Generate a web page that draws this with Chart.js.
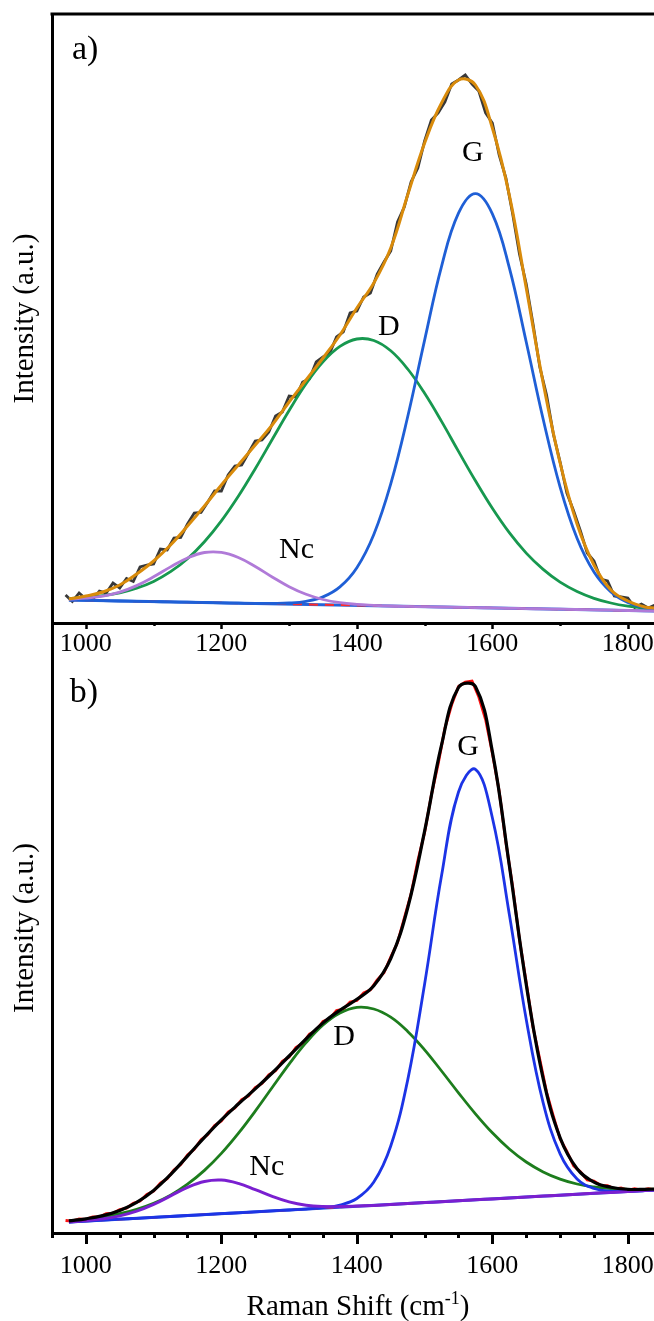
<!DOCTYPE html>
<html>
<head>
<meta charset="utf-8">
<title>Raman spectra fits</title>
<script src="https://cdn.jsdelivr.net/npm/chart.js@4.4.0/dist/chart.umd.min.js"></script>
<style>
  html, body { margin: 0; padding: 0; background: #fff; overflow: hidden; }
  body { width: 654px; height: 1321px; position: relative; }
  canvas { position: absolute; left: 0; }
  #chart-a { top: 0; z-index: 2; }
  #chart-b { top: 613px; z-index: 1; }
</style>
</head>
<body>
<canvas id="chart-a" width="720" height="680"></canvas>
<canvas id="chart-b" width="720" height="708"></canvas>
<script>
// ======== Data ========
const xTickLabels = [1000, 1200, 1400, 1600, 1800];
const aMinorTicks = [1100, 1300, 1500, 1700];
const bMinorTicks = [950, 1050, 1100, 1150, 1250, 1300, 1350, 1450, 1500, 1550, 1650, 1700, 1750];

// measured spectra, one point every 10 cm-1
const rawShift = Array.from({ length: 88 }, (_, i) => 970 + i * 10);

const aRaw = [28, 21.5, 30, 24, 23.5, 32, 30, 40, 35, 44.5, 41.5, 56, 58, 59, 74, 73, 85, 85.5, 99, 110,
  110.5, 121, 132, 132, 148, 157, 158, 170, 182, 183, 191, 207, 211, 227, 226, 241, 244, 261, 266, 270,
  286, 291, 310, 312, 326, 330, 349, 361, 372, 401, 416, 441, 455, 482, 503, 510, 521, 539, 543, 548,
  539, 532, 510, 500, 468, 445, 409, 369, 339, 299, 256, 228, 189, 161, 130, 112, 92, 70, 62, 44,
  42, 27, 26, 25, 15.5, 19, 15, 18];

const bRaw = [12.5, 11.8, 14.0, 13.6, 16.2, 16.1, 19.3, 19.8, 23.4, 24.9, 29.8, 31.9, 38.6, 41.8, 49.9, 54.3, 63.0, 68.5, 78.1, 83.6,
  93.2, 98.4, 107.5, 112.1, 121.0, 125.0, 133.3, 137.1, 145.5, 149.6, 158.2, 162.3, 171.6, 176.0, 185.5, 189.7, 198.9, 202.6, 211.7, 214.3,
  222.4, 224.0, 231.0, 232.5, 240.2, 243.1, 253.2, 260.3, 276.0, 290.4, 314.8, 339.0, 372.4, 400.5, 438.0, 469.0, 505.0, 528.5, 546.5, 551.0,
  552.0, 536.0, 513.5, 479.8, 442.0, 390.5, 346.0, 293.5, 250.5, 205.8, 173.8, 140.9, 116.8, 94.0, 81.5, 67.0, 61.2, 53.1, 51.9, 47.6,
  47.3, 44.2, 45.0, 43.0, 44.3, 42.9, 44.4, 43.3];

// fitted curves
const compShift = [975, 1000, 1025, 1050, 1075, 1100, 1125, 1150, 1175, 1200, 1225, 1250, 1275, 1300, 1325, 1350, 1375, 1400,
  1425, 1450, 1475, 1500, 1525, 1550, 1575, 1600, 1625, 1650, 1675, 1700, 1725, 1750, 1775, 1800, 1825, 1840];

const aFit = [24, 27, 31, 38, 49, 62, 78, 97, 117, 138, 158, 178, 198, 221, 243, 265, 288, 315,
  340, 375, 428, 480, 520, 543, 538, 495, 428, 335, 240, 160, 99, 58, 33, 22, 16, 15];
const aG = [23.0, 22.7, 22.4, 22.0, 21.7, 21.4, 21.1, 20.8, 20.5, 20.1, 19.8, 19.5, 19.6, 20.0, 21.7, 26.1, 36.1, 55.3,
  88.5, 139.1, 206.2, 282.9, 356.7, 409.8, 429.4, 409.2, 355.4, 281.0, 203.7, 135.9, 84.7, 50.9, 31.0, 20.4, 15.3, 13.7];
const aD = [24.6, 25.6, 27.4, 30.2, 34.8, 41.6, 51.3, 64.3, 81.3, 102.1, 126.7, 154.3, 183.5, 212.5, 239.2, 261.2, 276.6, 284.0,
  282.5, 272.2, 254.0, 229.7, 201.6, 171.6, 142.2, 114.7, 90.3, 69.9, 53.6, 40.8, 31.5, 24.7, 20.0, 16.8, 14.7, 13.8];
const aNc = [23.8, 24.8, 26.9, 30.9, 37.4, 46.2, 56.1, 65.0, 70.5, 70.6, 65.5, 56.5, 46.0, 36.3, 28.7, 23.5, 20.3, 18.6,
  17.7, 17.0, 16.6, 16.3, 16.0, 15.7, 15.4, 15.1, 14.7, 14.4, 14.1, 13.8, 13.5, 13.2, 12.8, 12.5, 12.2, 12.0];

const bFit = [12.1, 14.2, 17.4, 22.6, 30.7, 42.6, 58.4, 76.9, 95.7, 113.2, 129.0, 144.1, 160.0, 177.0, 194.2, 210.1, 222.8, 233.7,
  247.3, 274.3, 325.0, 401.9, 488.1, 545.5, 546.5, 481.4, 367.8, 248.6, 154.4, 95.2, 64.3, 50.9, 45.7, 43.7, 43.6, 43.9];
const bG = [11.0, 11.9, 12.8, 13.8, 14.7, 15.6, 16.5, 17.5, 18.4, 19.3, 20.2, 21.2, 22.1, 23.0, 23.9, 25.4, 28.0, 34.5,
  50.9, 87.0, 152.9, 249.1, 357.4, 441.0, 463.7, 415.3, 318.8, 213.6, 130.2, 79.1, 54.0, 44.5, 41.9, 41.6, 42.4, 43.0];
const bD = [12.0, 13.7, 16.0, 19.3, 23.6, 29.6, 37.8, 48.8, 62.6, 79.6, 99.6, 121.9, 145.5, 168.9, 190.3, 208.0, 220.0, 225.7,
  224.0, 215.8, 201.6, 183.2, 162.0, 140.2, 119.2, 100.2, 84.0, 71.0, 61.1, 53.9, 49.0, 46.1, 44.4, 43.7, 43.6, 43.9];
const bNc = [11.1, 12.4, 14.2, 17.1, 21.8, 28.6, 37.1, 45.6, 51.5, 52.9, 49.6, 43.4, 36.6, 31.1, 27.8, 26.5, 26.4, 26.9,
  27.6, 28.5, 29.5, 30.4, 31.3, 32.3, 33.2, 34.1, 35.0, 36.0, 36.9, 37.8, 38.7, 39.7, 40.6, 41.5, 42.4, 43.0];

// linear baselines
const baseShift = [975, 1840];
const aBaseline = [23, 12];
const bBaseline = [11, 43];

// ======== Helpers ========
const SERIF = '"Liberation Serif", "Times New Roman", serif';

function curve(xs, ys, color, width, extra) {
  return Object.assign({
    data: xs.map((x, i) => ({ x, y: ys[i] })),
    borderColor: color,
    borderWidth: width,
    pointRadius: 0,
    fill: false,
    tension: 0.4
  }, extra || {});
}

// tick marks, top frame, peak labels, x title
const panelDeco = {
  id: 'panelDeco',
  afterDraw(chart, args, opts) {
    const { ctx, chartArea, scales: { x, y } } = chart;
    ctx.save();
    ctx.strokeStyle = '#000';
    ctx.lineWidth = opts.tickWidth;
    const marks = xTickLabels.map(v => [v, opts.majorLen]).concat(opts.minors.map(v => [v, opts.minorLen]));
    marks.forEach(([v, len]) => {
      const px = Math.round(x.getPixelForValue(v)) + 0.5;
      ctx.beginPath();
      ctx.moveTo(px, chartArea.bottom);
      ctx.lineTo(px, chartArea.bottom + len);
      ctx.stroke();
    });
    if (opts.topFrame) {
      ctx.lineWidth = 3;
      ctx.beginPath();
      ctx.moveTo(chartArea.left - 1.5, chartArea.top);
      ctx.lineTo(chartArea.right, chartArea.top);
      ctx.stroke();
    }
    ctx.fillStyle = '#000';
    ctx.textAlign = 'center';
    ctx.textBaseline = 'middle';
    opts.labels.forEach(l => {
      ctx.font = l.size + 'px ' + SERIF;
      ctx.fillText(l.text, x.getPixelForValue(l.x), y.getPixelForValue(l.y));
    });
    if (opts.xTitle) {
      const t = opts.xTitle;
      ctx.textBaseline = 'alphabetic';
      ctx.textAlign = 'left';
      ctx.font = '29px ' + SERIF;
      const w1 = ctx.measureText(t.main).width;
      const w3 = ctx.measureText(t.close).width;
      ctx.font = '18px ' + SERIF;
      const w2 = ctx.measureText(t.sup).width;
      let sx = t.cx - (w1 + w2 + w3) / 2;
      ctx.font = '29px ' + SERIF;
      ctx.fillText(t.main, sx, t.baseline);
      ctx.font = '18px ' + SERIF;
      ctx.fillText(t.sup, sx + w1, t.baseline - 11);
      ctx.font = '29px ' + SERIF;
      ctx.fillText(t.close, sx + w1 + w2, t.baseline);
    }
    ctx.restore();
  }
};

function makeChart(id, datasets, o) {
  return new Chart(document.getElementById(id), {
    type: 'line',
    data: { datasets },
    plugins: [panelDeco],
    options: {
      responsive: false,
      animation: false,
      events: [],
      layout: { padding: { top: o.padTop, right: 0, bottom: 0, left: 0 } },
      plugins: {
        legend: { display: false },
        tooltip: { enabled: false },
        panelDeco: o.deco
      },
      scales: {
        x: {
          type: 'linear',
          min: 950,
          max: 1936,
          grid: { display: false },
          border: { display: true, width: 3, color: '#000' },
          ticks: {
            autoSkip: false,
            maxRotation: 0,
            padding: o.tickPad,
            color: '#000',
            font: { family: SERIF, size: 26, lineHeight: 1 },
            callback: v => String(v)
          },
          afterBuildTicks: s => { s.ticks = xTickLabels.map(v => ({ value: v })); },
          afterFit: s => { s.height = o.xHeight; }
        },
        y: {
          min: 0,
          max: o.yMax,
          grid: { display: false },
          border: { display: true, width: 3, color: '#000' },
          ticks: { display: false },
          title: {
            display: true,
            text: 'Intensity (a.u.)',
            color: '#000',
            font: { family: SERIF, size: 29, lineHeight: 1 },
            padding: { top: 10.5, bottom: 0 }
          },
          afterFit: s => { s.width = 52; }
        }
      }
    }
  });
}

// ======== Panel a ======== (first dataset is drawn on top)
makeChart('chart-a', [
  curve(compShift, aFit, '#d98b0b', 3),
  curve(compShift, aNc, '#b07ad8', 2.8),
  curve(compShift, aG, '#1f5fd6', 2.8),
  curve(compShift, aD, '#17984f', 2.8),
  curve(baseShift, aBaseline, '#ff2a2a', 2, { borderDash: [9, 7], tension: 0 }),
  curve(baseShift, aBaseline, '#2463d8', 2.8, { tension: 0 }),
  curve(rawShift, aRaw, '#383838', 2.8, { tension: 0 })
], {
  padTop: 14, tickPad: 0, xHeight: 57, yMax: 609,
  deco: {
    tickWidth: 2.5, majorLen: 6, minorLen: 3, minors: aMinorTicks, topFrame: true,
    labels: [
      { text: 'a)', x: 999, y: 573, size: 34 },
      { text: 'G', x: 1571, y: 470, size: 30 },
      { text: 'D', x: 1447, y: 296, size: 30 },
      { text: 'Nc', x: 1311, y: 73, size: 30 }
    ]
  }
});

// ======== Panel b ========
makeChart('chart-b', [
  curve(compShift, bFit, '#000000', 3.2),
  curve(compShift, bNc, '#7a1fd0', 3),
  curve(compShift, bG, '#1c34e6', 2.8),
  curve(compShift, bD, '#1d7d1d', 2.8),
  curve(baseShift, bBaseline, '#ff2a2a', 2, { borderDash: [9, 7], tension: 0 }),
  curve(baseShift, bBaseline, '#2350dc', 3, { tension: 0 }),
  curve(rawShift, bRaw, '#ff1010', 2.8, { tension: 0 })
], {
  padTop: 10, tickPad: 12, xHeight: 88, yMax: 610,
  deco: {
    tickWidth: 3, majorLen: 11, minorLen: 5, minors: bMinorTicks, topFrame: false,
    labels: [
      { text: 'b)', x: 997, y: 540, size: 34 },
      { text: 'G', x: 1564, y: 486, size: 30 },
      { text: 'D', x: 1381, y: 196, size: 30 },
      { text: 'Nc', x: 1267, y: 66, size: 30 }
    ],
    xTitle: { main: 'Raman Shift (cm', sup: '-1', close: ')', cx: 358, baseline: 702 }
  }
});
</script>
</body>
</html>
